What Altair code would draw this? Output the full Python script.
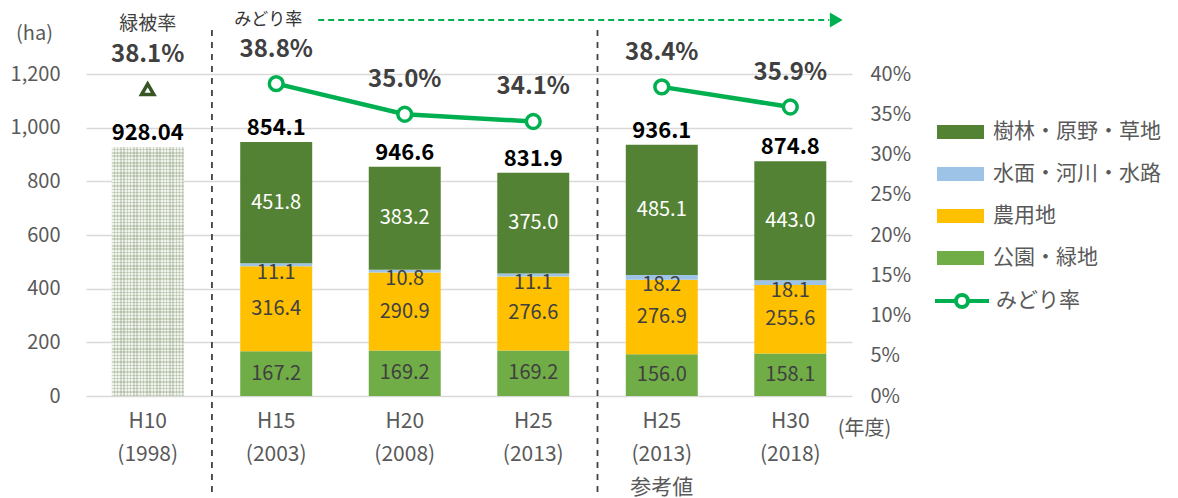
import altair as alt
import pandas as pd

# ---------------- data ----------------
years = ["H10 (1998)", "H15 (2003)", "H20 (2008)", "H25 (2013)", "H25 (2013) 参考値", "H30 (2018)"]
stack_years = ["H15 (2003)", "H20 (2008)", "H25 (2013)", "H25 (2013) 参考値", "H30 (2018)"]

park = [167.2, 169.2, 169.2, 156.0, 158.1]      # 公園・緑地
farm = [316.4, 290.9, 276.6, 276.9, 255.6]      # 農用地
water = [11.1, 10.8, 11.1, 18.2, 18.1]          # 水面・河川・水路
forest = [451.8, 383.2, 375.0, 485.1, 443.0]    # 樹林・原野・草地

h10_year = ["H10 (1998)"]
h10_total = [928.04]

total_labels = ["928.04", "854.1", "946.6", "831.9", "936.1", "874.8"]

rate_years = ["H15 (2003)", "H20 (2008)", "H25 (2013)", "H25 (2013) 参考値", "H30 (2018)"]
rates = [0.388, 0.350, 0.341, 0.384, 0.359]
rate_segment = ["a", "a", "a", "b", "b"]
h10_rate = [0.381]

categories = ["樹林・原野・草地", "水面・河川・水路", "農用地", "公園・緑地"]
cat_colors = ["#548235", "#9DC3E6", "#FFC000", "#70AD47"]

dividers = ["H15 (2003)", "H25 (2013) 参考値"]

FONT = "Noto Sans CJK JP"
GREEN = "#00B050"
GRAY_TXT = "#595959"
DARK_TXT = "#404040"

# ---------------- tables ----------------
rows = []
for i, yr in enumerate(stack_years):
    base = 0.0
    for cat, vals in [("公園・緑地", park), ("農用地", farm), ("水面・河川・水路", water), ("樹林・原野・草地", forest)]:
        v = vals[i]
        rows.append({"year": yr, "cat": cat, "y0": base, "y1": base + v, "mid": base + v / 2, "label": f"{v:.1f}"})
        base += v
seg = pd.DataFrame(rows)

totals = [h10_total[0]] + [park[i] + farm[i] + water[i] + forest[i] for i in range(len(stack_years))]
tot = pd.DataFrame({"year": years, "total": totals, "label": total_labels})
h10 = pd.DataFrame({"year": h10_year, "total": h10_total})
rate_df = pd.DataFrame({"year": rate_years, "rate": rates, "seg": rate_segment, "kind": ["みどり率"] * len(rates)})
h10_rate_df = pd.DataFrame({"year": h10_year, "rate": h10_rate, "kind": ["緑被率"]})
div_df = pd.DataFrame({"year": dividers})
arrow_df = pd.DataFrame({"start": ["H15 (2003)"], "end": ["H30 (2018)"], "txt": ["みどり率"]})


# ---------------- dotted texture for the H10 bar (striped gradients) ----------------
def stripes(n, dark, vertical):
    stops = []
    for i in range(n):
        a = i / n
        b = (i + 0.55) / n
        c = (i + 1) / n
        stops += [
            alt.GradientStop(offset=a, color="rgba(255,255,255,0)"),
            alt.GradientStop(offset=b, color="rgba(255,255,255,0)"),
            alt.GradientStop(offset=b, color=dark),
            alt.GradientStop(offset=c, color=dark),
        ]
    if vertical:
        return alt.LinearGradient(gradient="linear", stops=stops, x1=0, x2=1, y1=0, y2=0)
    return alt.LinearGradient(gradient="linear", stops=stops, x1=0, x2=0, y1=0, y2=1)


# ---------------- scales / axes ----------------
xscale = alt.Scale(domain=years, paddingInner=0.44, paddingOuter=0.2)
xaxis = alt.Axis(
    labelExpr="split(datum.value, ' ')", labelAngle=0, labelFontSize=21, labelColor=GRAY_TXT,
    labelLineHeight=33, labelPadding=14, domain=False, ticks=False,
    title="(年度)", titleX=778, titleY=32, titleAlign="center", titleBaseline="middle",
    titleFontSize=20, titleFontWeight="normal", titleColor=GRAY_TXT, titleFont=FONT, labelFont=FONT,
)
yscale = alt.Scale(domain=[0, 1200])
yaxis = alt.Axis(
    values=list(range(0, 1201, 200)), format=",.0f", grid=True, gridColor="#d9d9d9", gridWidth=1.5,
    domain=False, ticks=False, labelFontSize=20, labelColor=GRAY_TXT, labelPadding=26, labelFont=FONT,
    title="(ha)", titleAngle=0, titleX=-52, titleY=-41, titleAlign="center", titleBaseline="middle",
    titleFontSize=20, titleFontWeight="normal", titleColor=GRAY_TXT, titleFont=FONT,
)
rscale = alt.Scale(domain=[0, 0.4])
raxis = alt.Axis(
    values=[0, 0.05, 0.10, 0.15, 0.20, 0.25, 0.30, 0.35, 0.40], format=".0%", grid=False,
    domain=False, ticks=False, labelFontSize=20, labelColor=GRAY_TXT, labelPadding=18, title=None,
    labelFont=FONT,
)

X = lambda **kw: alt.X("year:N", scale=xscale, axis=xaxis, title="(年度)", **kw)

# ---------------- left (ha) layer ----------------
h10_base = alt.Chart(h10).mark_bar(color="#f2f4ef").encode(
    x=X(), y=alt.Y("total:Q", scale=yscale, axis=yaxis)
)
h10_v = alt.Chart(h10).mark_bar(color=stripes(22, "rgba(110,135,90,0.26)", True)).encode(
    x=X(), y=alt.Y("total:Q", scale=yscale, axis=yaxis)
)
h10_h = alt.Chart(h10).mark_bar(color=stripes(75, "rgba(110,135,90,0.26)", False)).encode(
    x=X(), y=alt.Y("total:Q", scale=yscale, axis=yaxis)
)

bars = alt.Chart(seg).mark_bar().encode(
    x=X(),
    y=alt.Y("y0:Q", scale=yscale, axis=yaxis),
    y2="y1:Q",
    color=alt.Color(
        "cat:N", scale=alt.Scale(domain=categories, range=cat_colors),
        legend=alt.Legend(
            title=None, orient="none", legendX=854.5, legendY=38, padding=0,
            symbolType="M-1.175,-0.35H1.175V0.35H-1.175Z", symbolSize=1600, symbolStrokeWidth=0,
            labelFontSize=21, labelColor=GRAY_TXT, labelOffset=12.5, rowPadding=12, labelFont=FONT,
            labelLimit=400,
        ),
    ),
)

seg_dark = alt.Chart(seg[seg["cat"].isin(["公園・緑地", "農用地"])]).mark_text(
    fontSize=20, color=DARK_TXT, baseline="middle"
).encode(x=X(), y=alt.Y("mid:Q", scale=yscale, axis=yaxis), text="label:N")

seg_water = alt.Chart(seg[seg["cat"] == "水面・河川・水路"]).mark_text(
    fontSize=20, color=DARK_TXT, baseline="middle", dy=8
).encode(x=X(), y=alt.Y("mid:Q", scale=yscale, axis=yaxis), text="label:N")

seg_forest = alt.Chart(seg[seg["cat"] == "樹林・原野・草地"]).mark_text(
    fontSize=20, color="white", baseline="middle"
).encode(x=X(), y=alt.Y("mid:Q", scale=yscale, axis=yaxis), text="label:N")

tot_text = alt.Chart(tot).mark_text(
    fontSize=22, fontWeight="bold", color="#000000", baseline="middle", dy=-14
).encode(x=X(), y=alt.Y("total:Q", scale=yscale, axis=yaxis), text="label:N")

div_rules = alt.Chart(div_df).mark_rule(
    color=DARK_TXT, strokeDash=[6, 6], strokeWidth=1.8, xOffset=-28.3
).encode(x=X(bandPosition=0), y=alt.value(-44), y2=alt.value(424))

arrow_line = alt.Chart(arrow_df).mark_rule(
    color=GREEN, strokeDash=[6, 4], strokeWidth=2, xOffset=6, x2Offset=3
).encode(
    x=alt.X("start:N", scale=xscale, axis=xaxis, bandPosition=1),
    x2=alt.X2("end:N", bandPosition=1),
    y=alt.value(-54),
)
arrow_head = alt.Chart(arrow_df).mark_point(
    shape="triangle-right", filled=True, color=GREEN, size=220, xOffset=10, opacity=1
).encode(x=alt.X("end:N", scale=xscale, axis=xaxis, bandPosition=1), y=alt.value(-54))
arrow_text = alt.Chart(arrow_df).mark_text(
    fontSize=17, color="#333333", align="right", baseline="middle", xOffset=-10
).encode(x=alt.X("start:N", scale=xscale, axis=xaxis, bandPosition=1), y=alt.value(-54), text="txt:N")

left = alt.layer(h10_base, h10_v, h10_h, bars, seg_dark, seg_water, seg_forest, tot_text,
                 div_rules, arrow_line, arrow_head, arrow_text)

# ---------------- right (%) layer ----------------
RY = lambda f: alt.Y(f, scale=rscale, axis=raxis)

line = alt.Chart(rate_df).mark_line(color=GREEN, strokeWidth=4.5).encode(
    x=X(), y=RY("rate:Q"), detail="seg:N"
)
pts = alt.Chart(rate_df).mark_point(filled=True, fill="white", size=190, strokeWidth=3.5, opacity=1).encode(
    x=X(), y=RY("rate:Q"),
    stroke=alt.Stroke(
        "kind:N", scale=alt.Scale(domain=["みどり率"], range=[GREEN]),
        legend=alt.Legend(
            title=None, orient="none", legendX=854, legendY=205, padding=0,
            symbolType="M-1.35,0H-0.3A0.3,0.3,0,1,1,0.3,0A0.3,0.3,0,1,1,-0.3,0M0.3,0H1.35",
            symbolSize=1600, symbolStrokeWidth=4, symbolFillColor="white", symbolStrokeColor=GREEN,
            labelFontSize=21, labelColor=GRAY_TXT, labelOffset=12, labelFont=FONT, labelLimit=400,
        ),
    ),
)
pct_text = alt.Chart(pd.concat([h10_rate_df, rate_df[["year", "rate", "kind"]]])).mark_text(
    fontSize=24, fontWeight="bold", color=DARK_TXT, baseline="middle", dy=-34
).encode(x=X(), y=RY("rate:Q"), text=alt.Text("rate:Q", format=".1%"))

tri = alt.Chart(h10_rate_df).mark_point(
    shape="triangle-up", filled=False, color="#375623", size=150, strokeWidth=3.5, opacity=1
).encode(x=X(), y=RY("rate:Q"))
tri_title = alt.Chart(h10_rate_df).mark_text(
    fontSize=19, color=DARK_TXT, baseline="middle", dy=-65
).encode(x=X(), y=RY("rate:Q"), text="kind:N")

right = alt.layer(line, pts, pct_text, tri, tri_title)

chart = alt.layer(left, right).resolve_scale(y="independent").properties(
    width=766, height=322,
    autosize=alt.AutoSizeParams(type="none"),
    padding={"left": 86, "top": 74, "right": 326, "bottom": 102},
).configure(font=FONT).configure_view(stroke=None)

chart.save("out.html", embed_options={"renderer": "svg", "actions": False})
